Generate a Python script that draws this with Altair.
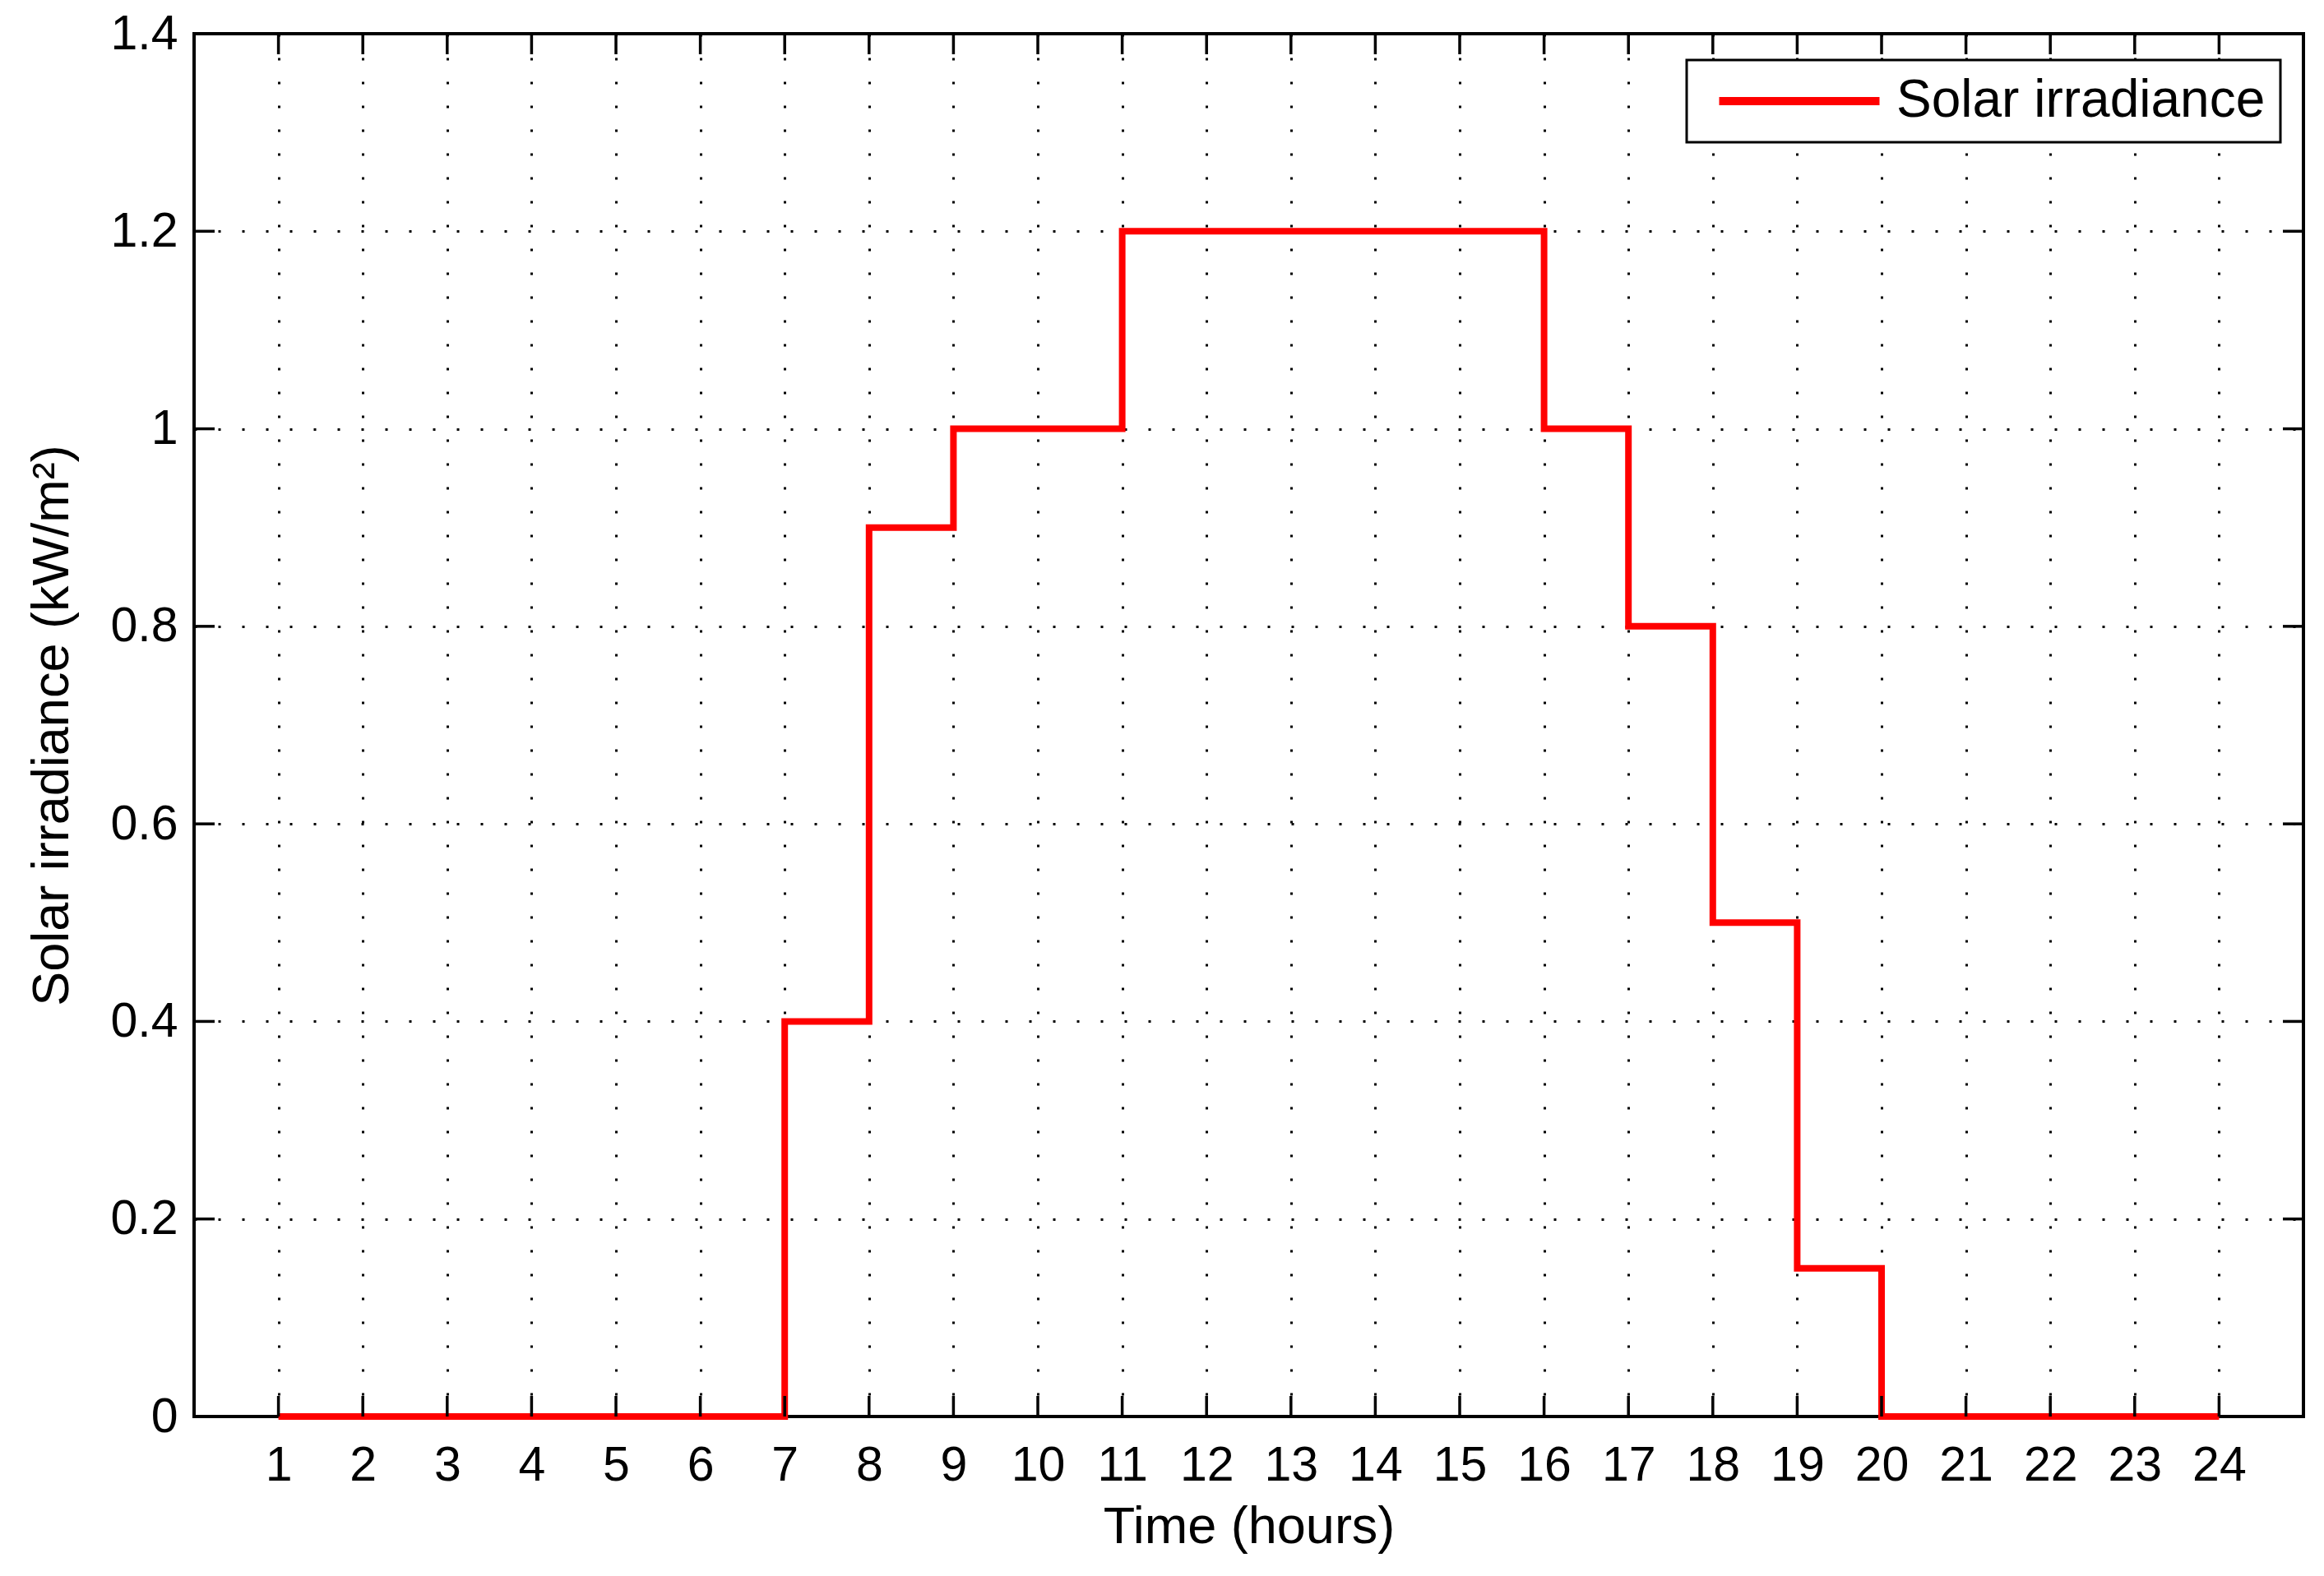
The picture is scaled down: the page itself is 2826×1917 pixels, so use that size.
import altair as alt
import pandas as pd

# ---- data ----
hours = list(range(1, 25))
irradiance = [0, 0, 0, 0, 0, 0, 0.4, 0.9, 1.0, 1.0, 1.2, 1.2, 1.2, 1.2, 1.2,
              1.0, 0.8, 0.5, 0.15, 0, 0, 0, 0, 0]
series_name = "Solar irradiance"
x_ticks = list(range(1, 25))
y_ticks = [0, 0.2, 0.4, 0.6, 0.8, 1, 1.2, 1.4]

W, H = 2565, 1682
TICK = 25
FONT = "Liberation Sans"

df = pd.DataFrame({"hour": hours, "value": irradiance, "series": series_name})
xt = pd.DataFrame({"t": x_ticks})
yt = pd.DataFrame({"t": y_ticks})

xscale = alt.Scale(domain=[0, 25], nice=False, zero=False)
yscale = alt.Scale(domain=[0, 1.4], nice=False)

line = alt.Chart(df).mark_line(interpolate="step-after", strokeWidth=8).encode(
    x=alt.X("hour:Q", scale=xscale,
            axis=alt.Axis(values=x_ticks, format="d", labelFontSize=59, labelPadding=30,
                          title="Time (hours)", titleFontSize=63, titlePadding=14)),
    y=alt.Y("value:Q", scale=yscale,
            axis=alt.Axis(values=y_ticks, format="~g", labelFontSize=59, labelPadding=20,
                          title="Solar irradiance (kW/m²)", titleFontSize=63,
                          titlePadding=38)),
    color=alt.Color("series:N",
                    scale=alt.Scale(domain=[series_name], range=["#ff0000"]),
                    legend=alt.Legend(orient="none", legendX=1815, legendY=32,
                                      title=None, labelFont=FONT, labelFontSize=64,
                                      labelColor="black", labelLimit=1000,
                                      symbolType="M-5,0H5", symbolSize=1521,
                                      symbolStrokeWidth=10, symbolOffset=87,
                                      labelOffset=86, padding=18,
                                      strokeColor="black", fillColor="white")),
)

tick_style = dict(color="black", strokeWidth=3.5)
xb = alt.Chart(xt).mark_rule(**tick_style).encode(
    x=alt.X("t:Q", scale=xscale), y=alt.value(H), y2=alt.value(H - TICK))
xtop = alt.Chart(xt).mark_rule(**tick_style).encode(
    x=alt.X("t:Q", scale=xscale), y=alt.value(0), y2=alt.value(TICK))
yl = alt.Chart(yt).mark_rule(**tick_style).encode(
    y=alt.Y("t:Q", scale=yscale), x=alt.value(0), x2=alt.value(TICK))
yr = alt.Chart(yt).mark_rule(**tick_style).encode(
    y=alt.Y("t:Q", scale=yscale), x=alt.value(W - TICK), x2=alt.value(W))

chart = alt.layer(line, xb, xtop, yl, yr).properties(
    width=W, height=H,
    autosize=alt.AutoSizeParams(type="none"),
    padding={"left": 228, "top": 33, "right": 17, "bottom": 186},
).configure(
    background="white"
).configure_view(
    stroke="black", strokeWidth=4
).configure_axis(
    grid=True, gridColor="black", gridDash=[3, 26], gridWidth=3, gridOpacity=1,
    ticks=False, domain=False, labelFont=FONT, labelColor="black",
    titleFont=FONT, titleColor="black", titleFontWeight="normal",
    labelOverlap=False, labelFlush=False
).configure_legend(
    strokeWidth=3
)

chart.save("out.html", embed_options={"renderer": "svg", "actions": False})
